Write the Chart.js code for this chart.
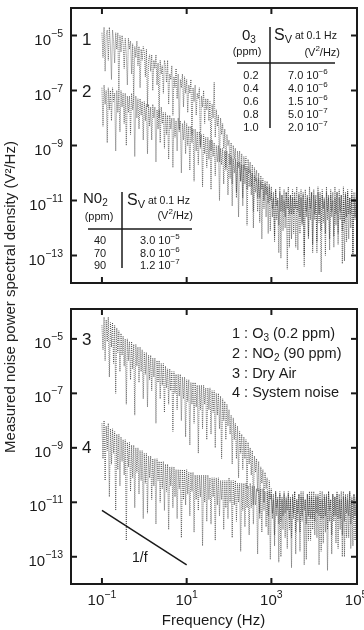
<!DOCTYPE html>
<html>
<head>
<meta charset="utf-8">
<script src="https://cdn.jsdelivr.net/npm/chart.js@4"></script>
<style>
  html, body { margin: 0; padding: 0; background: #fff; }
  #wrap { position: relative; width: 364px; height: 630px; overflow: hidden; }
  #top, #bottom { position: absolute; left: 0; }
  #top { top: 0; }
  #bottom { top: 300px; }
  #ytitle {
    position: absolute; left: 9.5px; top: 297px;
    width: 340px; height: 18px; margin-left: -170px; margin-top: -9px;
    line-height: 18px; text-align: center; white-space: nowrap;
    font: 15px "Liberation Sans", Arial, sans-serif; color: #222;
    transform: rotate(-90deg);
  }
</style>
</head>
<body>
<div id="wrap">
  <canvas id="top" width="364" height="300"></canvas>
  <canvas id="bottom" width="364" height="330"></canvas>
  <div id="ytitle">Measured noise power spectral density (V²/Hz)</div>
</div>
<script>
'use strict';

// frequency grid, as powers of ten (Hz)
let freqExp = [
  -1,-0.975,-0.95,-0.925,-0.9,-0.875,-0.85,-0.825,-0.8,-0.775,-0.75,-0.725,-0.7,-0.675,-0.65,-0.625,-0.6,-0.575,-0.55,-0.525,
  -0.5,-0.475,-0.45,-0.425,-0.4,-0.375,-0.35,-0.325,-0.3,-0.275,-0.25,-0.225,-0.2,-0.175,-0.15,-0.125,-0.1,-0.075,-0.05,-0.025,
  0,0.025,0.05,0.075,0.1,0.125,0.15,0.175,0.2,0.225,0.25,0.275,0.3,0.325,0.35,0.375,0.4,0.425,0.45,0.475,
  0.5,0.525,0.55,0.575,0.6,0.625,0.65,0.675,0.7,0.725,0.75,0.775,0.8,0.825,0.85,0.875,0.9,0.925,0.95,0.975,
  1,1.025,1.05,1.075,1.1,1.125,1.15,1.175,1.2,1.225,1.25,1.275,1.3,1.325,1.35,1.375,1.4,1.425,1.45,1.475,
  1.5,1.525,1.55,1.575,1.6,1.625,1.65,1.675,1.7,1.725,1.75,1.775,1.8,1.825,1.85,1.875,1.9,1.925,1.95,1.975,
  2,2.025,2.05,2.075,2.1,2.125,2.15,2.175,2.2,2.225,2.25,2.275,2.3,2.325,2.35,2.375,2.4,2.425,2.45,2.475,
  2.5,2.525,2.55,2.575,2.6,2.625,2.65,2.675,2.7,2.725,2.75,2.775,2.8,2.825,2.85,2.875,2.9,2.925,2.95,2.975,
  3,3.025,3.05,3.075,3.1,3.125,3.15,3.175,3.2,3.225,3.25,3.275,3.3,3.325,3.35,3.375,3.4,3.425,3.45,3.475,
  3.5,3.525,3.55,3.575,3.6,3.625,3.65,3.675,3.7,3.725,3.75,3.775,3.8,3.825,3.85,3.875,3.9,3.925,3.95,3.975,
  4,4.025,4.05,4.075,4.1,4.125,4.15,4.175,4.2,4.225,4.25,4.275,4.3,4.325,4.35,4.375,4.4,4.425,4.45,4.475,
  4.5,4.525,4.55,4.575,4.6,4.625,4.65,4.675,4.7,4.725,4.75,4.775,4.8,4.825,4.85,4.875,4.9,4.925,4.95,4.975,
  5
];

// spectra, as powers of ten (V^2/Hz)
// 1 : O3 (0.2 ppm)
let o3Exp = [
  -4.9,-5.8,-4.7,-6.3,-5.0,-4.8,-5.9,-4.7,-5.4,-6.6,-4.8,-5.2,-6.0,-4.9,-5.5,-4.9,-7.1,-5.0,-5.6,-5.0,
  -5.3,-6.2,-5.1,-5.7,-6.8,-5.1,-5.5,-5.2,-6.4,-5.3,-7.3,-5.4,-5.8,-5.2,-6.1,-5.4,-6.9,-5.5,-5.9,-5.4,
  -5.6,-6.5,-5.5,-7.6,-5.9,-5.7,-6.3,-5.7,-7.0,-5.9,-6.2,-5.7,-6.8,-6.0,-8.0,-5.9,-6.4,-6.1,-7.1,-5.9,
  -6.1,-6.7,-5.9,-7.5,-6.4,-6.6,-6.1,-7.9,-6.5,-6.9,-6.2,-7.3,-6.4,-8.4,-6.6,-6.9,-6.4,-7.6,-6.5,-7.1,
  -6.6,-7.8,-6.8,-7.1,-6.6,-8.6,-6.9,-7.4,-6.8,-7.9,-7.1,-7.3,-6.9,-9.0,-7.2,-7.6,-7.0,-8.2,-7.3,-7.7,
  -7.3,-8.1,-7.4,-9.2,-7.5,-8.0,-6.7,-8.7,-7.7,-8.3,-7.9,-9.6,-8.0,-8.6,-8.2,-9.1,-8.4,-9.9,-8.6,-9.0,
  -8.8,-9.7,-8.9,-10.4,-9.0,-9.5,-9.1,-10.9,-9.2,-9.8,-9.2,-10.3,-9.3,-11.2,-9.4,-9.9,-9.4,-10.6,-9.5,-10.0,
  -9.6,-10.5,-9.7,-11.4,-9.8,-10.3,-9.9,-10.9,-10.0,-11.8,-10.1,-10.6,-10.2,-11.3,-10.3,-10.8,-10.3,-12.2,-10.4,-11.0,
  -10.5,-11.6,-10.7,-12.5,-10.6,-11.2,-10.9,-11.9,-10.5,-13.1,-10.8,-11.4,-10.6,-12.0,-10.7,-11.3,-10.5,-12.7,-10.8,-11.5,
  -10.6,-12.2,-10.9,-11.3,-10.5,-12.8,-10.7,-11.6,-10.6,-11.9,-10.8,-13.4,-10.6,-11.4,-10.9,-12.3,-10.5,-11.7,-10.7,-12.6,
  -10.6,-11.5,-10.8,-12.9,-10.5,-11.8,-10.7,-12.1,-10.6,-11.3,-10.9,-13.0,-10.5,-11.7,-10.8,-12.4,-10.6,-11.4,-10.7,-12.7,
  -10.5,-11.9,-10.7,-12.2,-10.6,-11.4,-10.8,-13.3,-10.5,-11.8,-10.7,-12.5,-10.6,-11.5,-10.9,-12.0,-10.6,-13.0,-10.7,-11.6,
  -10.7
];
// 2 : NO2 (90 ppm)
let no2Exp = [
  -6.9,-8.3,-6.8,-7.5,-7.0,-8.9,-6.9,-7.7,-7.0,-8.1,-6.9,-7.4,-7.1,-9.2,-7.0,-7.8,-7.1,-8.5,-7.0,-7.6,
  -7.1,-8.2,-7.1,-9.0,-7.2,-7.8,-7.2,-8.6,-7.1,-7.7,-7.3,-9.4,-7.2,-8.0,-7.3,-8.4,-7.3,-7.9,-7.4,-8.8,
  -7.4,-8.1,-7.5,-9.3,-7.5,-8.3,-7.6,-8.8,-7.5,-8.0,-7.6,-9.6,-7.7,-8.4,-7.7,-8.9,-7.6,-8.2,-7.8,-9.1,
  -7.8,-8.6,-7.9,-9.5,-7.9,-8.4,-8.0,-9.8,-8.0,-8.7,-8.1,-9.2,-8.0,-8.5,-8.1,-10.0,-8.2,-8.8,-8.1,-9.3,
  -8.2,-9.0,-8.3,-9.9,-8.3,-8.9,-8.4,-10.3,-8.4,-9.2,-8.5,-9.7,-8.5,-9.1,-8.6,-10.5,-8.6,-9.3,-8.7,-9.8,
  -8.7,-9.5,-8.8,-10.6,-8.8,-9.4,-8.9,-10.1,-9.0,-9.6,-9.0,-11.0,-9.1,-9.7,-9.1,-10.4,-9.2,-9.8,-9.2,-10.8,
  -9.3,-10.2,-9.4,-11.2,-9.5,-10.0,-9.5,-10.7,-9.6,-11.6,-9.6,-10.3,-9.7,-10.9,-9.7,-10.4,-9.8,-11.9,-9.8,-10.5,
  -9.9,-10.8,-10.0,-12.0,-10.1,-10.7,-10.2,-11.4,-10.2,-10.9,-10.3,-12.4,-10.4,-11.0,-10.4,-11.6,-10.5,-11.1,-10.5,-12.1,
  -10.7,-11.3,-10.9,-12.3,-10.6,-11.7,-11.0,-12.9,-10.7,-11.4,-10.8,-12.1,-11.0,-11.6,-10.7,-13.5,-10.9,-11.5,-10.8,-12.4,
  -10.9,-11.5,-10.7,-12.7,-11.0,-11.4,-10.8,-12.2,-10.9,-11.8,-10.7,-13.0,-11.0,-11.6,-10.8,-12.4,-10.9,-11.3,-10.7,-12.9,
  -10.8,-11.7,-11.0,-12.5,-10.7,-11.5,-10.9,-13.6,-10.8,-11.8,-11.0,-12.2,-10.7,-11.4,-10.9,-12.8,-10.8,-11.6,-11.0,-12.3,
  -10.9,-11.5,-10.7,-12.6,-10.9,-11.7,-10.8,-12.1,-11.0,-13.2,-10.8,-11.6,-10.7,-12.4,-10.9,-11.5,-10.8,-12.9,-10.9,-11.7,
  -10.9
];
// 3 : Dry Air
let dryAirExp = [
  -4.5,-5.4,-4.2,-5.8,-4.3,-5.1,-4.2,-6.4,-4.4,-5.3,-4.4,-5.9,-4.5,-7.0,-4.6,-5.5,-4.7,-6.2,-4.8,-5.6,
  -4.9,-6.0,-5.0,-7.4,-5.0,-5.8,-5.1,-6.5,-5.1,-6.1,-5.2,-7.8,-5.2,-6.0,-5.3,-6.6,-5.3,-6.2,-5.4,-7.2,
  -5.5,-6.3,-5.5,-7.5,-5.6,-6.5,-5.6,-6.9,-5.7,-6.4,-5.7,-8.1,-5.8,-6.6,-5.8,-7.2,-5.9,-6.7,-5.9,-7.7,
  -6.0,-6.8,-6.1,-7.4,-6.1,-6.9,-6.2,-8.4,-6.2,-7.0,-6.3,-7.6,-6.3,-7.1,-6.3,-8.0,-6.4,-7.2,-6.4,-8.6,
  -6.5,-7.3,-6.5,-8.9,-6.6,-7.4,-6.6,-8.1,-6.6,-7.5,-6.7,-9.2,-6.7,-7.6,-6.7,-8.3,-6.7,-7.4,-6.8,-8.7,
  -6.8,-7.6,-6.8,-8.5,-6.9,-7.7,-6.9,-9.0,-7.0,-7.8,-7.0,-8.3,-7.1,-9.4,-7.2,-8.0,-7.3,-8.7,-7.4,-8.2,
  -7.6,-8.5,-7.8,-9.6,-7.9,-8.7,-8.1,-9.4,-8.2,-10.1,-8.4,-9.2,-8.5,-9.8,-8.6,-9.4,-8.7,-10.5,-8.8,-9.6,
  -9.0,-10.0,-9.1,-11.1,-9.3,-9.9,-9.4,-10.6,-9.5,-11.6,-9.7,-10.3,-9.8,-11.0,-9.9,-10.5,-10.1,-12.2,-10.2,-10.9,
  -10.5,-11.4,-10.7,-12.6,-10.6,-11.2,-10.9,-11.8,-10.6,-13.0,-10.8,-11.5,-10.7,-12.3,-10.9,-11.3,-10.6,-12.0,-10.8,-13.4,
  -10.7,-11.6,-10.6,-12.1,-10.9,-11.4,-10.7,-12.8,-10.6,-11.7,-10.8,-11.3,-10.9,-13.1,-10.7,-11.5,-10.6,-12.4,-10.8,-11.6,
  -10.6,-12.2,-10.8,-11.4,-10.7,-13.3,-10.9,-11.6,-10.6,-12.5,-10.8,-11.5,-10.7,-12.0,-10.6,-11.3,-10.9,-12.9,-10.7,-11.7,
  -10.8,-11.5,-10.6,-12.7,-10.7,-11.6,-10.9,-12.2,-10.6,-13.0,-10.8,-11.4,-10.7,-12.3,-10.6,-11.8,-10.9,-12.6,-10.7,-11.5,
  -10.8
];
// 4 : System noise
let systemExp = [
  -8.1,-9.4,-8.0,-10.2,-8.2,-9.1,-8.1,-10.8,-8.3,-9.6,-8.3,-9.2,-8.4,-11.3,-8.5,-9.8,-8.5,-10.4,-8.6,-9.5,
  -8.7,-10.0,-8.7,-12.4,-8.8,-9.7,-8.8,-10.6,-8.9,-10.1,-8.9,-11.2,-9.0,-9.9,-9.0,-10.7,-9.1,-10.2,-9.1,-11.6,
  -9.2,-10.3,-9.2,-11.4,-9.3,-10.1,-9.3,-10.9,-9.4,-10.4,-9.4,-11.8,-9.4,-10.2,-9.5,-11.0,-9.5,-10.5,-9.5,-11.3,
  -9.6,-10.6,-9.6,-12.0,-9.7,-10.4,-9.7,-11.2,-9.7,-10.8,-9.8,-11.6,-9.8,-10.5,-9.8,-12.3,-9.8,-10.9,-9.8,-11.1,
  -9.8,-10.7,-9.9,-11.5,-9.9,-10.6,-9.9,-12.1,-10.0,-10.9,-10.0,-11.3,-10.0,-10.8,-10.0,-12.6,-10.0,-11.0,-10.0,-11.7,
  -10.0,-10.9,-10.1,-11.8,-10.1,-10.8,-10.1,-12.4,-10.1,-11.1,-10.1,-11.5,-10.2,-10.9,-10.2,-12.0,-10.2,-11.2,-10.2,-11.6,
  -10.1,-11.0,-10.2,-12.3,-10.2,-11.1,-10.2,-11.7,-10.3,-11.0,-10.3,-12.8,-10.3,-11.3,-10.3,-11.9,-10.3,-11.2,-10.4,-12.2,
  -10.3,-11.2,-10.4,-11.8,-10.4,-11.1,-10.5,-12.9,-10.5,-11.4,-10.5,-12.1,-10.5,-11.3,-10.6,-11.9,-10.6,-11.5,-10.6,-13.1,
  -10.7,-11.6,-10.9,-12.2,-10.6,-11.5,-10.8,-13.2,-10.7,-11.7,-10.9,-12.0,-10.6,-11.4,-10.8,-12.7,-10.7,-11.6,-10.9,-12.3,
  -10.8,-11.4,-10.6,-12.9,-10.9,-11.7,-10.7,-12.1,-10.8,-11.5,-10.6,-13.3,-10.9,-11.8,-10.7,-12.4,-10.8,-11.6,-10.6,-12.0,
  -10.9,-11.7,-10.7,-12.3,-10.8,-11.5,-10.6,-12.8,-10.9,-11.6,-10.7,-12.1,-10.8,-13.5,-10.6,-11.7,-10.9,-12.2,-10.7,-11.5,
  -10.8,-12.5,-10.7,-11.6,-10.9,-12.0,-10.6,-13.0,-10.8,-11.7,-10.7,-12.3,-10.9,-11.5,-10.6,-12.7,-10.8,-11.6,-10.7,-12.4,
  -10.9
];

// 1/f guide line
let slopeX = [0.1, 10];
let slopeY = [5e-12, 5e-14];

// axis ticks (powers of ten)
let yTickExps = [-5, -7, -9, -11, -13];
let xTickExps = [-1, 1, 3, 5];

// tables
let o3Ppm = ['0.2', '0.4', '0.6', '0.8', '1.0'];
let o3Sv = ['7.0', '4.0', '1.5', '5.0', '2.0'];
let o3SvExp = ['6', '6', '6', '7', '7'];
let no2Ppm = ['40', '70', '90'];
let no2Sv = ['3.0', '8.0', '1.2'];
let no2SvExp = ['5', '6', '7'];

const FONT = '"Liberation Sans", Arial, sans-serif';
const MINUS = '\u2212';
const INK = '#1a1a1a';
const TRACE = 'rgba(30,30,30,0.6)';

function font(size){
  return size + 'px ' + FONT;
}

// pieces: [text, size, raise]
function drawPieces(ctx, pieces, x, y, align){
  let w = 0;
  pieces.forEach(p => { ctx.font = font(p[1]); w += ctx.measureText(p[0]).width; });
  let cx = x;
  if(align === 'right') cx = x - w;
  if(align === 'center') cx = x - w / 2;
  ctx.textAlign = 'left';
  ctx.textBaseline = 'alphabetic';
  pieces.forEach(p => {
    ctx.font = font(p[1]);
    ctx.fillText(p[0], cx, y - (p[2] || 0));
    cx += ctx.measureText(p[0]).width;
  });
}

function line(ctx, x1, y1, x2, y2, w){
  ctx.lineWidth = w;
  ctx.beginPath();
  ctx.moveTo(x1, y1);
  ctx.lineTo(x2, y2);
  ctx.stroke();
}

function expLabel(e){
  return e < 0 ? MINUS + Math.abs(e) : String(e);
}

function drawTopText(ctx){
  drawPieces(ctx, [['1', 17]], 82, 45);
  drawPieces(ctx, [['2', 17]], 82, 97);

  // O3 table
  drawPieces(ctx, [['0', 15], ['3', 10, -3]], 242, 40);
  drawPieces(ctx, [['(ppm)', 11]], 247, 55, 'center');
  line(ctx, 270, 27, 270, 128, 1.5);
  drawPieces(ctx, [['S', 16], ['V', 11, -3], [' at 0.1 Hz', 10.5, 1]], 274, 40);
  drawPieces(ctx, [['(V', 11], ['2', 8, 5], ['/Hz)', 11]], 340, 56, 'right');
  line(ctx, 237, 63, 335, 63, 1.5);
  for(let i = 0; i < o3Ppm.length; i++){
    let by = 79 + i * 13;
    drawPieces(ctx, [[o3Ppm[i], 11]], 251, by, 'center');
    drawPieces(ctx, [[o3Sv[i] + ' 10', 11], [MINUS + o3SvExp[i], 8, 5]], 288, by);
  }

  // NO2 table
  drawPieces(ctx, [['N0', 15], ['2', 10, -3]], 83, 203);
  drawPieces(ctx, [['(ppm)', 11]], 99, 220, 'center');
  line(ctx, 122, 192, 122, 268, 1.5);
  drawPieces(ctx, [['S', 16], ['V', 11, -3], [' at 0.1 Hz', 10.5, 1]], 127, 205);
  drawPieces(ctx, [['(V', 11], ['2', 8, 5], ['/Hz)', 11]], 193, 219, 'right');
  line(ctx, 88, 229, 192, 229, 1.5);
  for(let i = 0; i < no2Ppm.length; i++){
    let by = 244 + i * 12.5;
    drawPieces(ctx, [[no2Ppm[i], 11]], 100, by, 'center');
    drawPieces(ctx, [[no2Sv[i] + ' 10', 11], [MINUS + no2SvExp[i], 8, 5]], 140, by);
  }
}

function drawBottomText(ctx, chart){
  drawPieces(ctx, [['3', 17]], 82, 45);
  drawPieces(ctx, [['4', 17]], 82, 153);

  drawPieces(ctx, [['1 : O', 14.5], ['3', 10, -3], [' (0.2 ppm)', 14.5]], 232, 38);
  drawPieces(ctx, [['2 : NO', 14.5], ['2', 10, -3], [' (90 ppm)', 14.5]], 232, 58);
  drawPieces(ctx, [['3 : Dry Air', 14.5]], 232, 77.5);
  drawPieces(ctx, [['4 : System noise', 14.5]], 232, 97);

  drawPieces(ctx, [['1/f', 14]], 132, 262);

  // x tick labels
  let xs = chart.scales.x;
  xTickExps.forEach(e => {
    let px = xs.getPixelForValue(Math.pow(10, e));
    drawPieces(ctx, [['10', 15], [expLabel(e), 10.5, 7]], px, 305, 'center');
  });
  drawPieces(ctx, [['Frequency (Hz)', 15]], 213.5, 325, 'center');
}

const panelDeco = {
  id: 'panelDeco',
  afterDraw(chart){
    let ctx = chart.ctx;
    let a = chart.chartArea;
    let xs = chart.scales.x;
    let ys = chart.scales.y;
    ctx.save();
    ctx.strokeStyle = INK;
    ctx.fillStyle = INK;
    ctx.lineWidth = 2;
    ctx.strokeRect(a.left, a.top, a.right - a.left, a.bottom - a.top);

    yTickExps.forEach(e => {
      let py = ys.getPixelForValue(Math.pow(10, e));
      line(ctx, a.left, py, a.left + 6, py, 2);
      line(ctx, a.right - 6, py, a.right, py, 2);
      drawPieces(ctx, [['10', 15], [expLabel(e), 10.5, 8]], 63, py + 9, 'right');
    });
    xTickExps.forEach(e => {
      let px = xs.getPixelForValue(Math.pow(10, e));
      if(px > a.right - 3) return;
      line(ctx, px, a.bottom, px, a.bottom - 6, 2);
      line(ctx, px, a.top, px, a.top + 6, 2);
    });

    if(chart.canvas.id === 'top') drawTopText(ctx);
    else drawBottomText(ctx, chart);
    ctx.restore();
  }
};

function spectrum(exps){
  let pts = [];
  for(let i = 0; i < freqExp.length; i++){
    pts.push({x: Math.pow(10, freqExp[i]), y: Math.pow(10, exps[i])});
  }
  return {
    data: pts,
    borderColor: TRACE,
    borderWidth: 1,
    borderDash: [1, 1],
    pointRadius: 0,
    fill: false,
    tension: 0
  };
}

function makeChart(id, datasets, yMax, pad){
  return new Chart(document.getElementById(id), {
    type: 'line',
    data: {datasets: datasets},
    options: {
      responsive: false,
      animation: false,
      layout: {padding: pad},
      plugins: {legend: {display: false}, tooltip: {enabled: false}},
      scales: {
        x: {type: 'logarithmic', min: 0.0186, max: 1.05e5, display: false},
        y: {type: 'logarithmic', min: 1e-14, max: yMax, display: false}
      }
    },
    plugins: [panelDeco]
  });
}

makeChart('top', [
  spectrum(no2Exp),
  spectrum(o3Exp)
], 1e-4, {left: 71, right: 7, top: 8, bottom: 17});

let slopeLine = {
  data: slopeX.map((x, i) => ({x: x, y: slopeY[i]})),
  borderColor: INK,
  borderWidth: 1.5,
  pointRadius: 0,
  fill: false
};

makeChart('bottom', [
  spectrum(systemExp),
  spectrum(dryAirExp),
  slopeLine
], 1.25e-4, {left: 71, right: 7, top: 9, bottom: 46});
</script>
</body>
</html>
